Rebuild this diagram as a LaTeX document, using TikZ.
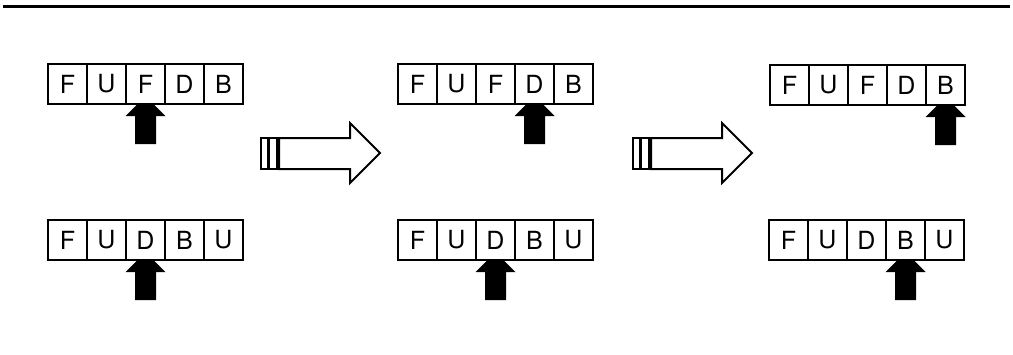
\documentclass[tikz,border=0pt]{standalone}
\usepackage{fontspec}
\setmainfont{TeX Gyre Heros}
\begin{document}
\begin{tikzpicture}[x=1pt,y=-1pt,
  cell/.style={draw, line width=2pt, minimum width=39pt, minimum height=40pt,
    inner sep=0pt, outer sep=0pt, font=\fontsize{25}{29}\selectfont},
  pointer/.pic={
    \fill (-10.5,40) -- (-10.5,12) -- (-20,12) -- (-9,1) -- (9,1) -- (20,12)
      -- (10.5,12) -- (10.5,40) -- cycle;
  },
  bigarrow/.pic={
    \draw[line width=1.6pt] (0,0) rectangle (7,31);
    \draw[line width=1.6pt] (8.5,0) rectangle (16,31);
    \draw[line width=2pt, line join=miter]
      (18,0) -- (89,0) -- (89,-15) -- (119,15) -- (89,45) -- (89,31) -- (18,31) -- cycle;
  }]
\useasboundingbox (0,0) rectangle (1013,354);

% rule across the top
\draw[line width=2.2pt] (3,6.5) coordinate (rl) -- (1010,6.5) coordinate (rr);

% tapes: name / left edge / centre line / symbols
\foreach \nm/\x/\y/\word in {ta/48/84/{F,U,F,D,B}, tb/48/240/{F,U,D,B,U},
    tc/398/84/{F,U,F,D,B}, td/398/240/{F,U,D,B,U},
    te/770/85/{F,U,F,D,B}, tf/769/240/{F,U,D,B,U}} {
  \foreach \c [count=\i] in \word {
    \node[cell] (\nm\i) at ({\x+19.5+39*(\i-1)},\y) {\c};
  }
}

% head positions
\pic at (ta3.south) {pointer};
\pic at (tb3.south) {pointer};
\pic at (tc4.south) {pointer};
\pic at (td3.south) {pointer};
\pic at (te5.south) {pointer};
\pic at (tf4.south) {pointer};

% transition arrows
\pic at (261,138) {bigarrow};
\pic at (633,138) {bigarrow};
\end{tikzpicture}
\end{document}
